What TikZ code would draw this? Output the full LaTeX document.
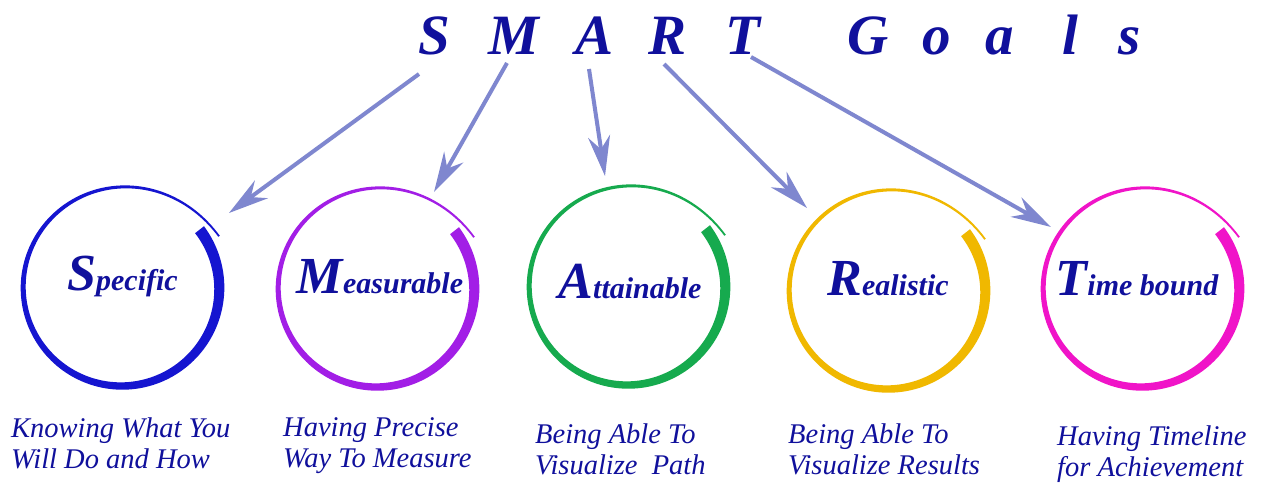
\documentclass[tikz,border=0pt]{standalone}
\usepackage{fontspec}
\setmainfont{Liberation Serif}
\usetikzlibrary{arrows.meta}
\definecolor{txt}{HTML}{10109C}
\definecolor{arr}{HTML}{7F87CF}
\definecolor{cS}{HTML}{1515D0}
\definecolor{cM}{HTML}{A21EE6}
\definecolor{cA}{HTML}{16AA4E}
\definecolor{cR}{HTML}{F0B800}
\definecolor{cT}{HTML}{F014C8}
\newcommand{\smartring}[3]{%
  \fill[#3] plot[domain=0:1,samples=180,variable=\t]
    ({#1+(rr(\t)+ww(\t)/2)*cos(ph(\t))},{#2-(rr(\t)+ww(\t)/2)*sin(ph(\t))})
    -- plot[domain=1:0,samples=180,variable=\t]
    ({#1+(rr(\t)-ww(\t)/2)*cos(ph(\t))},{#2-(rr(\t)-ww(\t)/2)*sin(ph(\t))})
    -- cycle;}
\newcommand{\initl}[2]{{\fontsize{52}{52}\selectfont\bfseries\itshape #1}{\fontsize{30}{30}\selectfont\bfseries\itshape #2}}
\begin{document}
\begin{tikzpicture}[x=1pt,y=-1pt,
  declare function={
    rr(\u)=97+3*\u+10*\u*\u*\u*\u*\u*\u*\u*\u*\u*\u;
    ww(\u)=1.8+9.5*(1-\u)*(1-0.3*\u);
    ph(\u)=37-369*\u;},
  ring/.style={circle, minimum size=204pt, inner sep=0pt},
  lbl/.style={text=txt, inner sep=0pt, anchor=base},
  ttl/.style={text=txt, inner sep=0pt, anchor=base, font=\fontsize{57}{57}\selectfont\bfseries\itshape},
  desc/.style={text=txt, inner sep=0pt, anchor=base west, font=\fontsize{28.5}{28.5}\selectfont\itshape},
  arrw/.style={draw=arr, line width=4pt, -{Stealth[length=40pt,width=22pt,inset=13pt]}},
]
\useasboundingbox[fill=white] (0,0) rectangle (1263,484);

% title
\node[ttl] (tS) at (434,55) {S};
\node[ttl] (tM) at (514,55) {M};
\node[ttl] (tA) at (595,55) {A};
\node[ttl] (tR) at (668,55) {R};
\node[ttl] (tT) at (743,55) {T};
\node[ttl] (gG) at (868,55) {G};
\node[ttl] (go) at (937,55) {o};
\node[ttl] (ga) at (1000,55) {a};
\node[ttl] (gl) at (1070,55) {l};
\node[ttl] (gs) at (1130,55) {s};

% rings
\node[ring] (ringS) at (122,288) {};
\node[ring] (ringM) at (377,289) {};
\node[ring] (ringA) at (628,287) {};
\node[ring] (ringR) at (888,291) {};
\node[ring] (ringT) at (1142,289) {};
\smartring{122}{288}{cS}
\smartring{377}{289}{cM}
\smartring{628}{287}{cA}
\smartring{888}{291}{cR}
\smartring{1142}{289}{cT}

% ring labels
\node[lbl] (lS) at (122.5,290) {\initl{S}{pecific}};
\node[lbl] (lM) at (380,293) {\initl{M}{easurable}};
\node[lbl] (lA) at (630,298) {\initl{A}{ttainable}};
\node[lbl] (lR) at (888,295) {\initl{R}{ealistic}};
\node[lbl] (lT) at (1137,295) {\initl{T}{ime bound}};

% arrows
\coordinate (aS) at (419,74);  \coordinate (eS) at (229,213);
\coordinate (aM) at (507,63);  \coordinate (eM) at (434,192);
\coordinate (aA) at (589,69);  \coordinate (eA) at (605,176);
\coordinate (aR) at (664,64);  \coordinate (eR) at (807,208);
\coordinate (aT) at (751,57);  \coordinate (eT) at (1051,227);
\draw[arrw] (aS) -- (eS);
\draw[arrw] (aM) -- (eM);
\draw[arrw] (aA) -- (eA);
\draw[arrw] (aR) -- (eR);
\draw[arrw] (aT) -- (eT);

% descriptions
\node[desc] (d1a) at (11,437) {Knowing What You};
\node[desc] (d1b) at (11,468) {Will Do and How};
\node[desc] (d2a) at (283,436) {Having Precise};
\node[desc] (d2b) at (283,467) {Way To Measure};
\node[desc] (d3a) at (535,443) {Being Able To};
\node[desc] (d3b) at (535,474) {Visualize\ \ Path};
\node[desc] (d4a) at (788,443) {Being Able To};
\node[desc] (d4b) at (788,474) {Visualize Results};
\node[desc] (d5a) at (1057,445) {Having Timeline};
\node[desc] (d5b) at (1057,476) {for Achievement};
\end{tikzpicture}
\end{document}
